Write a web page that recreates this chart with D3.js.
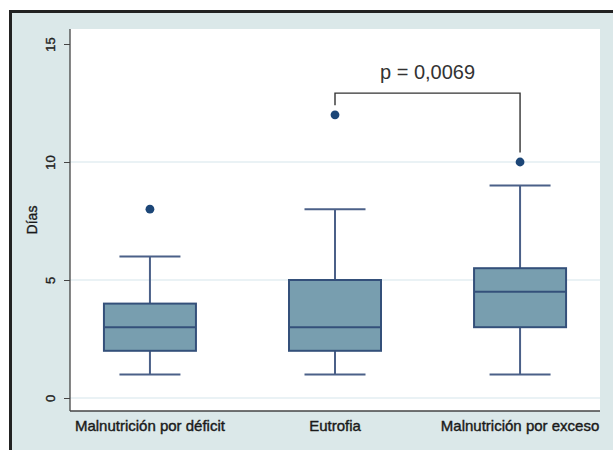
<!DOCTYPE html>
<html>
<head>
<meta charset="utf-8">
<script src="https://cdn.jsdelivr.net/npm/d3@7"></script>
<style>
  body { margin: 0; background: #fff; }
  text { font-family: "Liberation Sans", Arial, sans-serif; }
</style>
</head>
<body>
<div id="chart"></div>
<script>
var svgWidth = 613;
var svgHeight = 450;

// plot region (white area)
var margin = { top: 29, left: 70, right: 13, bottom: 39 };
var width = svgWidth - margin.left - margin.right;
var height = svgHeight - margin.top - margin.bottom;

var categories = ["Malnutrición por déficit", "Eutrofia", "Malnutrición por exceso"];
var mins = [1, 1, 1];
var q1s = [2, 2, 3];
var medians = [3, 3, 4.5];
var q3s = [4, 5, 5.5];
var maxs = [6, 8, 9];
var outliers = [[8], [12], [10]];
var yTicks = [0, 5, 10, 15];
var gridTicks = [0, 5, 10];
var pLabel = "p = 0,0069";

var svg = d3.select("#chart").append("svg")
  .attr("width", svgWidth)
  .attr("height", svgHeight);

// graph background + frame
svg.append("rect")
  .attr("x", 10.5).attr("y", 11.5)
  .attr("width", 700).attr("height", 600)
  .attr("fill", "#dbe8e9")
  .attr("stroke", "#222")
  .attr("stroke-width", 3);

var chartGroup = svg.append("g")
  .attr("transform", `translate(${margin.left}, ${margin.top})`);

chartGroup.append("rect")
  .attr("width", width).attr("height", height)
  .attr("fill", "#fff");

var x = d3.scalePoint()
  .domain(categories)
  .range([0, width])
  .padding(0.432);

var y = d3.scaleLinear()
  .domain([0, 15])
  .range([369, 15]);

// grid
chartGroup.selectAll(".grid")
  .data(gridTicks)
  .enter()
  .append("line")
  .attr("x1", 0).attr("x2", width)
  .attr("y1", d => y(d)).attr("y2", d => y(d))
  .attr("stroke", "#d6e6ec")
  .attr("stroke-width", 1.2);

// y axis
var yAxis = d3.axisLeft(y).tickValues(yTicks).tickSize(6).tickPadding(6);
var yG = chartGroup.append("g").call(yAxis);
yG.select(".domain").remove();
yG.append("line")
  .attr("x1", 0).attr("x2", 0).attr("y1", 0).attr("y2", height)
  .attr("stroke", "#444").attr("stroke-width", 1.3);
yG.selectAll(".tick line").attr("stroke", "#444");
yG.selectAll(".tick text")
  .attr("transform", "rotate(-90)")
  .attr("x", 0)
  .attr("y", -15)
  .attr("dy", 0)
  .style("text-anchor", "middle")
  .style("font-size", "13px")
  .style("fill", "#222")
  .style("stroke", "#222")
  .style("stroke-width", 0.35);

// x axis line
chartGroup.append("line")
  .attr("x1", 0).attr("x2", width).attr("y1", height).attr("y2", height)
  .attr("stroke", "#444").attr("stroke-width", 1.3);

chartGroup.selectAll(".xlab")
  .data(categories)
  .enter()
  .append("text")
  .attr("x", d => x(d))
  .attr("y", height + 20)
  .style("text-anchor", "middle")
  .style("font-size", "15px")
  .style("fill", "#1a1a1a")
  .style("stroke", "#1a1a1a")
  .style("stroke-width", 0.4)
  .text(d => d);

// y title
svg.append("text")
  .attr("transform", "translate(37, 220) rotate(-90)")
  .style("text-anchor", "middle")
  .style("font-size", "14px")
  .style("fill", "#1a1a1a")
  .style("stroke", "#1a1a1a")
  .style("stroke-width", 0.35)
  .text("Días");

// boxes
var boxW = 92, capW = 61;
var boxes = chartGroup.selectAll(".box")
  .data(categories)
  .enter()
  .append("g")
  .attr("transform", d => `translate(${x(d)},0)`);

boxes.append("line")
  .attr("y1", (d, i) => y(maxs[i])).attr("y2", (d, i) => y(q3s[i]))
  .attr("stroke", "#4b6088").attr("stroke-width", 2);
boxes.append("line")
  .attr("y1", (d, i) => y(q1s[i])).attr("y2", (d, i) => y(mins[i]))
  .attr("stroke", "#4b6088").attr("stroke-width", 2);
boxes.append("line")
  .attr("x1", -capW / 2).attr("x2", capW / 2)
  .attr("y1", (d, i) => y(maxs[i])).attr("y2", (d, i) => y(maxs[i]))
  .attr("stroke", "#4b6088").attr("stroke-width", 2);
boxes.append("line")
  .attr("x1", -capW / 2).attr("x2", capW / 2)
  .attr("y1", (d, i) => y(mins[i])).attr("y2", (d, i) => y(mins[i]))
  .attr("stroke", "#4b6088").attr("stroke-width", 2);
boxes.append("rect")
  .attr("x", -boxW / 2)
  .attr("y", (d, i) => y(q3s[i]))
  .attr("width", boxW)
  .attr("height", (d, i) => y(q1s[i]) - y(q3s[i]))
  .attr("fill", "#789eaf")
  .attr("stroke", "#34507a")
  .attr("stroke-width", 2);
boxes.append("line")
  .attr("x1", -boxW / 2).attr("x2", boxW / 2)
  .attr("y1", (d, i) => y(medians[i])).attr("y2", (d, i) => y(medians[i]))
  .attr("stroke", "#34507a").attr("stroke-width", 2);
boxes.each(function(d, i) {
  d3.select(this).selectAll("circle")
    .data(outliers[i])
    .enter()
    .append("circle")
    .attr("cx", 0)
    .attr("cy", v => y(v))
    .attr("r", 4.4)
    .attr("fill", "#1c4677");
});

// significance bracket
var bTop = 12.92, bLeft = 12.4, bRight = 10.4;
chartGroup.append("path")
  .attr("d", `M${x(categories[1])},${y(bLeft)} V${y(bTop)} H${x(categories[2])} V${y(bRight)}`)
  .attr("fill", "none")
  .attr("stroke", "#333")
  .attr("stroke-width", 1.4);

chartGroup.append("text")
  .attr("x", (x(categories[1]) + x(categories[2])) / 2)
  .attr("y", y(bTop) - 14)
  .style("text-anchor", "middle")
  .style("font-size", "20px")
  .style("fill", "#333")
  .text(pLabel);
</script>
</body>
</html>
